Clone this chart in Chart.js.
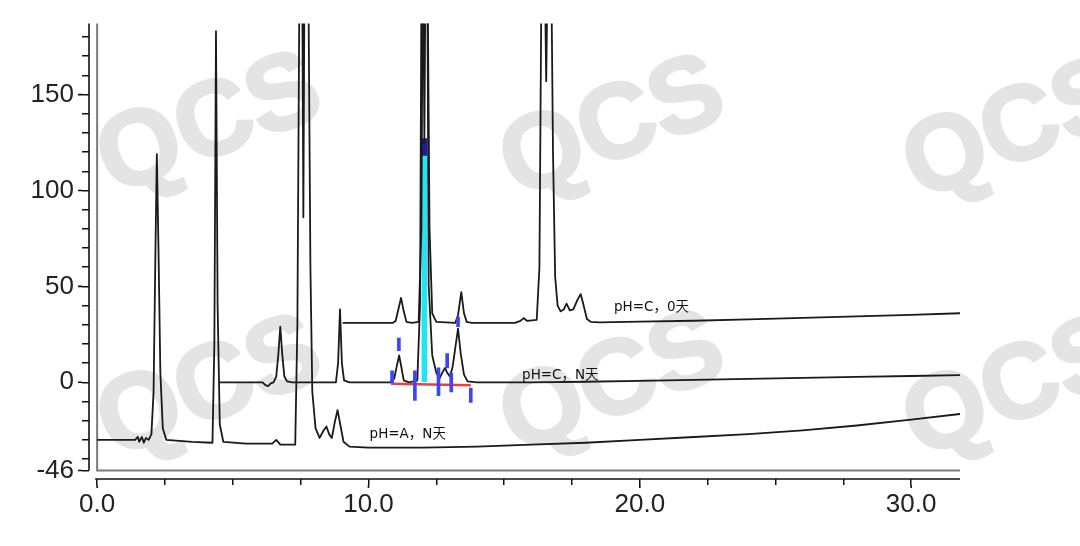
<!DOCTYPE html>
<html>
<head>
<meta charset="utf-8">
<script src="https://cdn.jsdelivr.net/npm/chart.js@4.4.1/dist/chart.umd.min.js"></script>
<style>
  html, body { margin: 0; padding: 0; background: #fff; }
  #wrap { width: 1080px; height: 546px; }
</style>
</head>
<body>
<div id="wrap"><canvas id="myChart"></canvas></div>
<script>
// 色谱图数据 (min, mAU)
const timeA = [0, 1.4, 1.5, 1.55, 1.65, 1.72, 1.8, 1.9, 2.0, 2.08, 2.15, 2.2, 2.26, 2.33, 2.42, 2.55, 3.5, 4.25, 4.32, 4.38,
  4.44, 4.52, 4.65, 5.5, 6.45, 6.6, 6.75, 7.3, 7.38, 7.46, 7.53, 7.6, 7.67, 7.78, 7.86, 7.93, 8.05, 8.2, 8.35, 8.45,
  8.55, 8.65, 8.77, 8.86, 8.96, 9.08, 9.3, 10, 12, 14, 16, 18, 20, 22, 24, 26, 28, 30, 31.8];
const sigA = [-30, -30, -28.5, -31, -28.5, -31.5, -29, -30, -27, -5, 70, 119, 70, 5, -24, -30, -31, -31.5, 20, 183,
  40, -22, -31, -32, -32, -30, -32.5, -32.5, 30, 220, 300, 86, 300, 220, 60, -5, -24, -29, -25, -23,
  -27, -29, -20, -14.5, -22, -31, -33.5, -34, -34, -33.5, -32.5, -31.5, -30, -28.5, -27, -25, -22.5, -19.5, -16.5];

const timeCN = [4.52, 6.1, 6.2, 6.3, 6.4, 6.5, 6.6, 6.68, 6.75, 6.82, 6.9, 7.0, 7.2, 8.8, 8.88, 8.95, 9.02, 9.1, 9.3, 10.8,
  10.95, 11.05, 11.13, 11.21, 11.3, 11.5, 11.8, 11.9, 11.98, 12.06, 12.14, 12.22, 12.35, 12.5, 12.62, 12.72, 12.82, 12.9, 13.0, 13.1,
  13.2, 13.3, 13.4, 13.52, 13.65, 14, 16, 18, 20, 22, 24, 26, 28, 30, 31.8];
const sigCN = [0, 0, -1.5, -2, -0.5, 0, 3, 15, 29, 15, 3, 0.5, 0, 0, 10, 38, 10, 1, 0, 0,
  2, 9, 14, 8, 1, 0, 1, 40, 300, 125, 300, 50, 14, 5, 2, 5, 7.5, 5, 3, 8,
  18, 28, 15, 4, 0.5, 0, 0, 0.3, 0.8, 1.3, 1.8, 2.3, 2.8, 3.3, 3.8];

const timeC0 = [9.05, 10.9, 11.0, 11.1, 11.2, 11.3, 11.4, 11.6, 11.85, 11.95, 12.03, 12.13, 12.25, 12.35, 12.5, 13.2, 13.3, 13.42, 13.52, 13.62,
  13.8, 15.4, 15.6, 15.72, 15.85, 16.2, 16.3, 16.42, 16.55, 16.68, 16.8, 16.88, 16.97, 17.08, 17.2, 17.3, 17.42, 17.55, 17.7, 17.82,
  17.93, 18.05, 18.2, 18.5, 20, 22, 24, 26, 28, 30, 31.8];
const sigC0 = [31, 31, 32, 38, 44, 37, 31.5, 31, 31.5, 80, 300, 300, 80, 36, 31.5, 31, 35, 47, 36, 31.5,
  31, 31, 32, 33.5, 32, 32.5, 60, 300, 157, 300, 120, 55, 40, 37, 38, 41, 37.5, 38, 43, 46,
  40, 33, 31.5, 31.3, 31.6, 32.1, 32.8, 33.6, 34.4, 35.2, 36];

// 积分基线和标记
const baseX = [10.83, 13.77];
const baseY = [-0.8, -1.5];
const markX = [10.87, 11.12, 11.71, 12.58, 12.9, 13.05, 13.3, 13.77];
const markLo = [-0.5, 16.5, -9.5, -7, 7.5, -5, 29, -10.5];
const markHi = [6, 23, 6, 7.5, 15, 5, 34, -3];
const areaX = 12.06;
const areaTop = 118;
const areaCap = 127;

// 曲线标签
const traceNames = ['pH=C，0天', 'pH=C，N天', 'pH=A，N天'];
const nameX = [19.05, 15.66, 10.04];
const nameY = [39, 3.6, -27];

// 坐标轴刻度
const yTicks = [-46, -40, -30, -20, -10, 0, 10, 20, 30, 40, 50, 60, 70, 80, 90, 100, 110, 120, 130, 140, 150, 160, 170, 180];
const yLabels = [-46, 0, 50, 100, 150];
const xTicks = [0, 2.5, 5, 7.5, 10, 12.5, 15, 17.5, 20, 22.5, 25, 27.5, 30];
const xLabels = [0, 10, 20, 30];

const zip = (xs, ys) => xs.map((x, i) => ({ x: x, y: ys[i] }));

const traceStyle = {
  type: 'line',
  borderColor: '#1a1a1a',
  borderWidth: 1.8,
  pointRadius: 0,
  tension: 0,
  fill: false,
  borderJoinStyle: 'round',
  order: 2
};

// 水印
const watermark = {
  id: 'watermark',
  beforeDraw(chart) {
    const ctx = chart.ctx;
    ctx.save();
    ctx.fillStyle = '#e4e4e4';
    ctx.strokeStyle = '#e4e4e4';
    ctx.lineWidth = 3;
    ctx.lineJoin = 'round';
    ctx.font = 'bold 106px "Liberation Sans", Arial, sans-serif';
    ctx.textAlign = 'center';
    ctx.textBaseline = 'middle';
    [[210, 127], [613, 130], [1016, 132], [210, 390], [613, 386], [1016, 390]].forEach(p => {
      ctx.save();
      ctx.translate(p[0], p[1]);
      ctx.rotate(-21 * Math.PI / 180);
      ctx.strokeText('QCS', 0, 0);
      ctx.fillText('QCS', 0, 0);
      ctx.restore();
    });
    ctx.restore();
  }
};

// 边框和坐标轴线
const frame = {
  id: 'frame',
  beforeDatasetsDraw(chart) {
    const ctx = chart.ctx;
    const a = chart.chartArea;
    const xs = chart.scales.x, ys = chart.scales.y;
    const x0 = xs.getPixelForValue(0);
    const yb = ys.getPixelForValue(-46);
    ctx.save();
    ctx.strokeStyle = '#7a7a7a';
    ctx.lineWidth = 2;
    ctx.beginPath();
    ctx.moveTo(x0, a.top);
    ctx.lineTo(x0, yb);
    ctx.lineTo(a.right, yb);
    ctx.stroke();
    ctx.strokeStyle = '#111';
    ctx.lineWidth = 1.6;
    ctx.beginPath();
    ctx.moveTo(a.left, a.top);
    ctx.lineTo(a.left, yb);
    ctx.moveTo(x0 - 2, a.bottom);
    ctx.lineTo(a.right, a.bottom);
    ctx.stroke();
    // 长刻度
    ctx.beginPath();
    yLabels.forEach(v => {
      const p = ys.getPixelForValue(v);
      ctx.moveTo(a.left - 11, p);
      ctx.lineTo(a.left - 7, p);
    });
    xLabels.forEach(v => {
      const p = xs.getPixelForValue(v);
      ctx.moveTo(p, a.bottom + 6);
      ctx.lineTo(p, a.bottom + 9);
    });
    ctx.stroke();
    ctx.restore();
  },
  afterDatasetsDraw(chart) {
    const ctx = chart.ctx;
    const xs = chart.scales.x, ys = chart.scales.y;
    ctx.save();
    ctx.fillStyle = '#111';
    ctx.font = '13.5px "DejaVu Sans", "Noto Sans CJK SC", sans-serif';
    ctx.textAlign = 'left';
    ctx.textBaseline = 'middle';
    traceNames.forEach((t, i) => {
      ctx.fillText(t, xs.getPixelForValue(nameX[i]), ys.getPixelForValue(nameY[i]));
    });
    ctx.restore();
  }
};

const ctx = document.getElementById('myChart').getContext('2d');
const myChart = new Chart(ctx, {
  type: 'line',
  data: {
    datasets: [
      { ...traceStyle, label: traceNames[2], data: zip(timeA, sigA) },
      { ...traceStyle, label: traceNames[1], data: zip(timeCN, sigCN) },
      { ...traceStyle, label: traceNames[0], data: zip(timeC0, sigC0) },
      {
        type: 'line', label: 'baseline', data: zip(baseX, baseY),
        borderColor: '#f03c3c', borderWidth: 2.5, pointRadius: 0, order: 1
      },
      {
        type: 'bar', label: 'area', data: [{ x: areaX, y: [0, areaTop] }],
        backgroundColor: '#22e4f2', barThickness: 5, grouped: false, order: 3
      },
      {
        type: 'bar', label: 'cap', data: [{ x: areaX, y: [areaTop, areaCap] }],
        backgroundColor: '#1c1ca8', barThickness: 5, grouped: false, order: 3
      },
      {
        type: 'bar', label: 'marks', data: markX.map((x, i) => ({ x: x, y: [markLo[i], markHi[i]] })),
        backgroundColor: '#3d46f2', barThickness: 3, grouped: false, order: 0
      }
    ]
  },
  plugins: [watermark, frame],
  options: {
    responsive: true,
    maintainAspectRatio: false,
    animation: false,
    layout: { padding: { left: 0, top: 22, right: 120, bottom: 0 } },
    plugins: { legend: { display: false }, tooltip: { enabled: false } },
    scales: {
      x: {
        type: 'linear',
        min: -0.3,
        max: 31.8,
        offset: false,
        afterBuildTicks: s => { s.ticks = xTicks.map(v => ({ value: v })); },
        afterFit: s => { s.height = 67; },
        ticks: {
          autoSkip: false,
          maxRotation: 0,
          padding: 4,
          color: '#222',
          font: { family: '"Liberation Sans", Arial, sans-serif', size: 26 },
          callback: v => xLabels.includes(v) ? v.toFixed(1) : ''
        },
        grid: { drawOnChartArea: false, tickLength: 6, color: '#111', lineWidth: 1.5, offset: false },
        border: { display: false }
      },
      y: {
        min: -50.4,
        max: 187,
        afterBuildTicks: s => { s.ticks = yTicks.map(v => ({ value: v })); },
        afterFit: s => { s.width = 89; },
        ticks: {
          autoSkip: false,
          padding: 8,
          color: '#222',
          font: { family: '"Liberation Sans", Arial, sans-serif', size: 26 },
          callback: v => yLabels.includes(v) ? String(v) : ''
        },
        grid: { drawOnChartArea: false, tickLength: 7, color: '#111', lineWidth: 1.5 },
        border: { display: false }
      }
    }
  }
});
</script>
</body>
</html>
